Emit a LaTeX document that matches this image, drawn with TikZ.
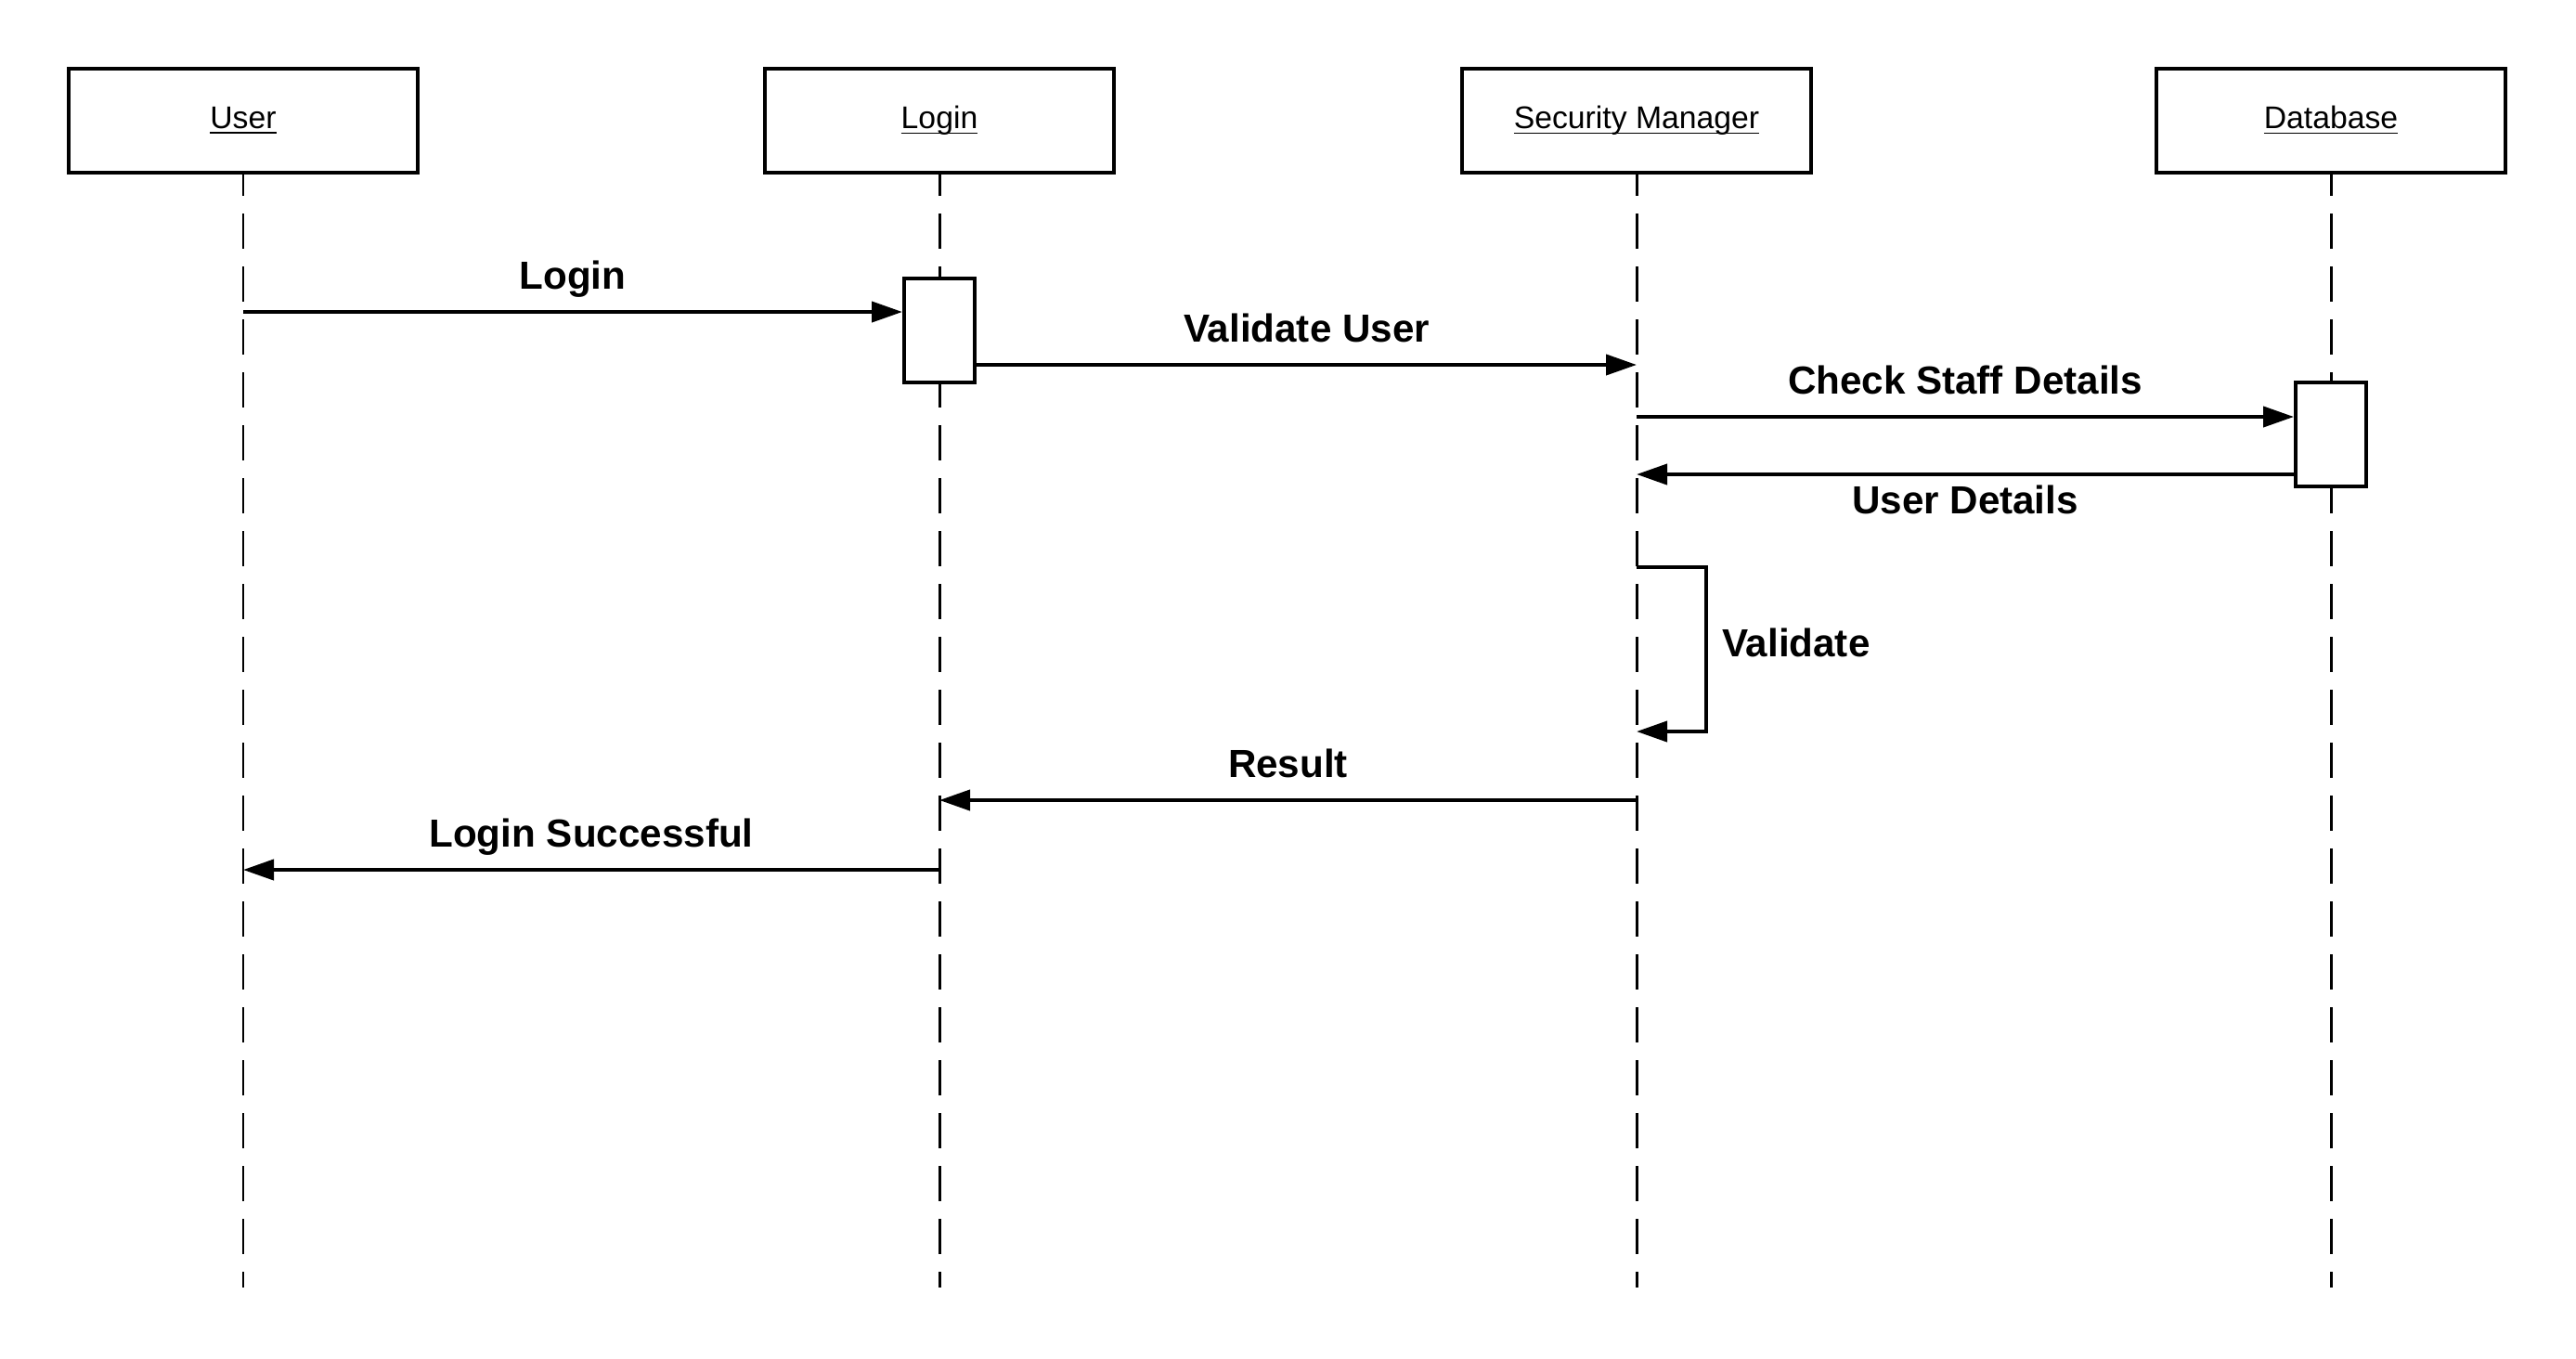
\documentclass[tikz,border=0pt]{standalone}
\usepackage{fontspec}
\setmainfont{Liberation Sans}
\usetikzlibrary{arrows.meta}
\newcommand{\headtxt}[1]{\underline{\raisebox{0pt}[\height][0pt]{#1}}}

\begin{document}
\begin{tikzpicture}[
  head/.style={draw, line width=1.14pt, minimum width=3.76cm, minimum height=1.12cm, inner sep=0pt, font=\fontsize{9.6}{11}\selectfont},
  act/.style={draw, fill=white, line width=1.14pt, minimum width=0.76cm, minimum height=1.12cm, inner sep=0pt},
  life/.style={line width=0.85pt, dash pattern=on 0.38cm off 0.19cm, dash phase=0.15cm},
  msg/.style={line width=1.14pt, -{Triangle[length=0.33cm, width=0.22cm]}},
  lbl/.style={font=\bfseries\fontsize{12}{14}\selectfont, inner sep=0pt, text depth=0pt}
]
  \useasboundingbox (0,0) rectangle (27.75,-14.63);
  \node[head](U) at (2.62,-1.30) {\headtxt{User}};
  \node[head](L) at (10.12,-1.30) {\headtxt{Login}};
  \node[head](S) at (17.63,-1.30) {\headtxt{Security Manager}};
  \node[head](D) at (25.11,-1.30) {\headtxt{Database}};
  \coordinate(Uend) at (2.62,-13.87);
  \coordinate(Lend) at (10.12,-13.87);
  \coordinate(Send) at (17.63,-13.87);
  \coordinate(Dend) at (25.11,-13.87);
  \draw[life] (U) -- (Uend);
  \draw[life] (L) -- (Lend);
  \draw[life] (S) -- (Send);
  \draw[life] (D) -- (Dend);
  \node[act](A1) at (10.12,-3.555) {};
  \node[act](A2) at (25.11,-4.68) {};
  % message rows
  \coordinate(r1) at (0,-3.36);
  \coordinate(r2) at (0,-3.93);
  \coordinate(r3) at (0,-4.49);
  \coordinate(r4) at (0,-5.11);
  \coordinate(r5) at (0,-6.11);
  \coordinate(r6) at (0,-7.88);
  \coordinate(r7) at (0,-8.62);
  \coordinate(r8) at (0,-9.37);
  \draw[msg] (U |- r1) -- (A1.west |- r1) node[lbl, midway, above=0.225cm]{Login};
  \draw[msg] (A1.east |- r2) -- (S |- r2) node[lbl, midway, above=0.225cm]{Validate User};
  \draw[msg] (S |- r3) -- (A2.west |- r3) node[lbl, midway, above=0.225cm]{Check Staff Details};
  \draw[msg] (A2.west |- r4) -- (S |- r4) node[lbl, midway, below=0.10cm]{User Details};
  \draw[msg] (S |- r5) -- ++(0.75,0) |- (S |- r6) node[lbl, pos=0.25, right=0.15cm, yshift=0.07cm]{Validate};
  \draw[msg] (S |- r7) -- (L |- r7) node[lbl, midway, above=0.225cm]{Result};
  \draw[msg] (L |- r8) -- (U |- r8) node[lbl, midway, above=0.225cm]{Login Successful};
\end{tikzpicture}
\end{document}
